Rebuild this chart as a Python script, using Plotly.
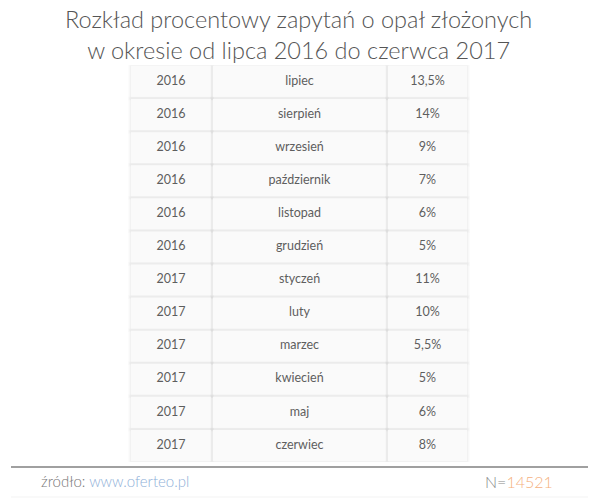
import plotly.graph_objects as go

years = ["2016", "2016", "2016", "2016", "2016", "2016",
         "2017", "2017", "2017", "2017", "2017", "2017"]
months = ["lipiec", "sierpień", "wrzesień", "październik", "listopad", "grudzień",
          "styczeń", "luty", "marzec", "kwiecień", "maj", "czerwiec"]
shares = ["13,5%", "14%", "9%", "7%", "6%", "5%",
          "11%", "10%", "5,5%", "5%", "6%", "8%"]

col_bounds = [(131, 211), (213, 386), (388, 467)]
columns = [years, months, shares]

PLOT_TOP = 65
PLOT_H = 397

def py(page_y):
    """page pixel y -> paper y"""
    return 1 - (page_y - PLOT_TOP) / PLOT_H

fig = go.Figure()
shapes = []
n = len(months)
half = 0.47
for i in range(n):
    for (x0, x1) in col_bounds:
        for k, a in [(3, 0.012), (2, 0.016), (1, 0.025)]:
            shapes.append(dict(type="rect", xref="x", yref="y",
                               x0=x0 - k, x1=x1 + k, y0=i - half - k * 0.025, y1=i + half + k * 0.035,
                               line=dict(width=0), fillcolor=f"rgba(0,0,0,{a})", layer="below"))
        shapes.append(dict(type="rect", xref="x", yref="y",
                           x0=x0, x1=x1, y0=i - half, y1=i + half,
                           line=dict(width=0), fillcolor="#fafafa", layer="below"))

for (x0, x1), vals in zip(col_bounds, columns):
    fig.add_trace(go.Scatter(
        x=[(x0 + x1) / 2] * n, y=list(range(n)), mode="text", text=vals,
        textposition="middle center",
        textfont=dict(family="Lato", size=12.5, color="#5e5e5e"),
        hoverinfo="skip", showlegend=False))

shapes.append(dict(type="line", xref="x", yref="paper", x0=11, x1=588,
                   y0=py(467), y1=py(467), line=dict(color="#808080", width=1.5)))
shapes.append(dict(type="line", xref="x", yref="paper", x0=11, x1=588,
                   y0=py(497), y1=py(497), line=dict(color="#f3f3f3", width=1)))

annotations = [
    dict(text="Rozkład procentowy zapytań o opał złożonych<br>w okresie od lipca 2016 do czerwca 2017",
         xref="x", yref="paper", x=298, y=py(34), xanchor="center", yanchor="middle",
         showarrow=False, align="center",
         font=dict(family="Lato", size=23.5, color="#555555", weight=300)),
    dict(text="<span style='color:#777777'>źródło: </span><span style='color:#8fb0d8'>www.oferteo.pl</span>",
         xref="x", yref="paper", x=39, y=py(481), xanchor="left", yanchor="middle",
         showarrow=False, font=dict(family="Lato", size=15, weight=300)),
    dict(text="<span style='color:#888888'>N=</span><span style='color:#f5b07e'>14521</span>",
         xref="x", yref="paper", x=483, y=py(481), xanchor="left", yanchor="middle",
         showarrow=False, font=dict(family="Lato", size=16, weight=300)),
]

fig.update_layout(
    width=600, height=500,
    margin=dict(l=0, r=0, t=PLOT_TOP, b=500 - PLOT_TOP - PLOT_H),
    paper_bgcolor="white", plot_bgcolor="white",
    xaxis=dict(range=[0, 600], visible=False, fixedrange=True),
    yaxis=dict(range=[n - 0.5, -0.5], visible=False, fixedrange=True),
    shapes=shapes, annotations=annotations,
)

fig.write_html("out.html", config={"displayModeBar": False},
               post_script="document.body.style.margin='0';")
